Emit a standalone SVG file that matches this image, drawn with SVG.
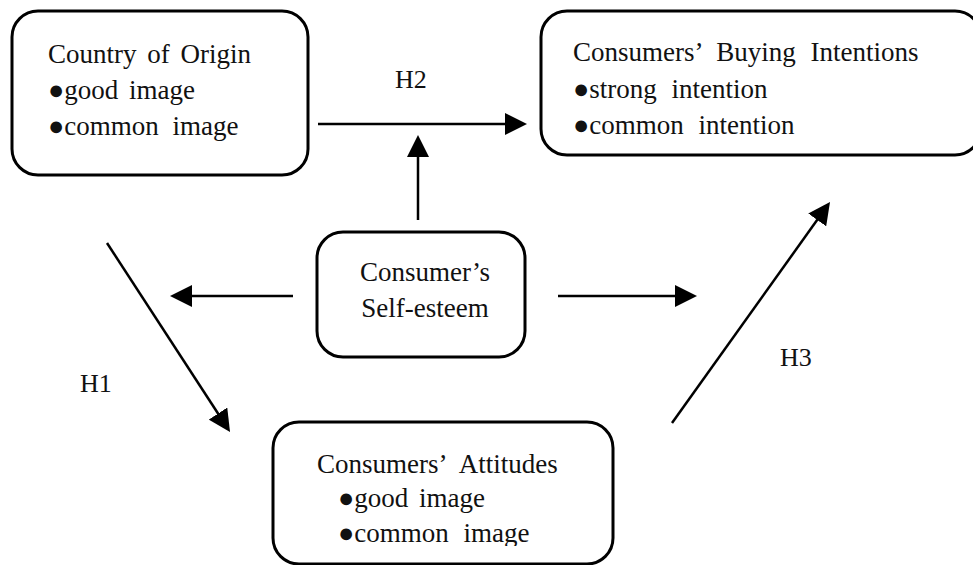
<svg xmlns="http://www.w3.org/2000/svg" width="973" height="565" viewBox="0 0 973 565">
  <defs>
    <marker id="ah" markerUnits="userSpaceOnUse" markerWidth="22" markerHeight="22" refX="17" refY="11" orient="auto">
      <path d="M0,0 L22,11 L0,22 Z" fill="#000000"/>
    </marker>
    <clipPath id="bottomclip"><rect x="0" y="0" width="973" height="546"/></clipPath>
  </defs>
  <rect width="973" height="565" fill="#ffffff"/>

  <g id="country-of-origin">
    <rect x="12" y="11" width="296" height="164" rx="26" ry="26" fill="#ffffff" stroke="#000000" stroke-width="3"/>
    <text x="48" y="63" font-family="Liberation Serif, serif" font-size="27" word-spacing="4" fill="#111111">Country of Origin</text>
    <text x="48" y="99" font-family="Liberation Serif, serif" font-size="27" word-spacing="4" fill="#111111">●good image</text>
    <text x="48" y="135" font-family="Liberation Serif, serif" font-size="27" word-spacing="7" fill="#111111">●common image</text>
  </g>

  <g id="buying-intentions">
    <rect x="541" y="11" width="440" height="144" rx="26" ry="26" fill="#ffffff" stroke="#000000" stroke-width="3"/>
    <text x="573" y="61" font-family="Liberation Serif, serif" font-size="27" word-spacing="8" fill="#111111">Consumers’ Buying Intentions</text>
    <text x="573" y="98" font-family="Liberation Serif, serif" font-size="27" word-spacing="8" fill="#111111">●strong intention</text>
    <text x="573" y="134" font-family="Liberation Serif, serif" font-size="27" word-spacing="8" fill="#111111">●common intention</text>
  </g>

  <g id="self-esteem">
    <rect x="317" y="232" width="208" height="125" rx="26" ry="26" fill="#ffffff" stroke="#000000" stroke-width="3"/>
    <text x="425" y="281" text-anchor="middle" font-family="Liberation Serif, serif" font-size="27" fill="#111111">Consumer’s</text>
    <text x="425" y="317" text-anchor="middle" font-family="Liberation Serif, serif" font-size="27" fill="#111111">Self-esteem</text>
  </g>

  <g id="attitudes">
    <rect x="273" y="422" width="340" height="142" rx="26" ry="26" fill="#ffffff" stroke="#000000" stroke-width="3"/>
    <text x="317" y="473" font-family="Liberation Serif, serif" font-size="27" word-spacing="8" fill="#111111">Consumers’ Attitudes</text>
    <text x="338" y="507" font-family="Liberation Serif, serif" font-size="27" word-spacing="4" fill="#111111">●good image</text>
    <text x="338" y="542" clip-path="url(#bottomclip)" font-family="Liberation Serif, serif" font-size="27" word-spacing="8" fill="#111111">●common image</text>
  </g>

  <g id="connectors" stroke="#000000" stroke-width="2.5" fill="none" marker-end="url(#ah)">
    <line x1="318" y1="124" x2="522" y2="124"/>
    <line x1="418" y1="220" x2="418" y2="140"/>
    <line x1="293" y1="296" x2="175" y2="296"/>
    <line x1="558" y1="296" x2="692" y2="296"/>
    <line x1="107" y1="243" x2="227.3" y2="427.8"/>
    <line x1="672" y1="423" x2="827.1" y2="206.1"/>
  </g>

  <g id="labels">
    <text x="395" y="88" font-family="Liberation Serif, serif" font-size="26" fill="#111111">H2</text>
    <text x="80" y="392" font-family="Liberation Serif, serif" font-size="26" fill="#111111">H1</text>
    <text x="780" y="366" font-family="Liberation Serif, serif" font-size="26" fill="#111111">H3</text>
  </g>
</svg>
